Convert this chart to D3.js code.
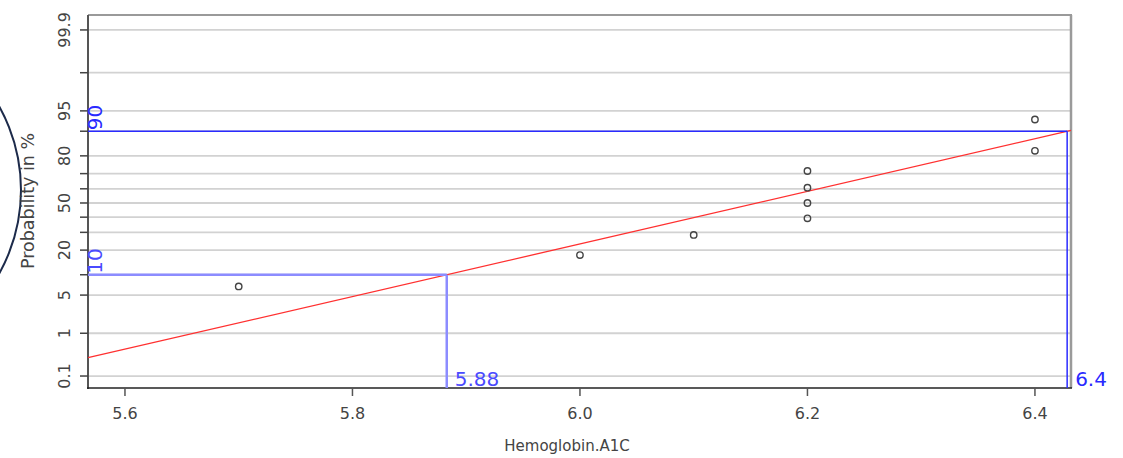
<!DOCTYPE html>
<html lang="en">
<head>
<meta charset="UTF-8">
<title>Probability plot</title>
<script src="https://d3js.org/d3.v7.min.js"></script>
<style>
    body { margin: 0; background: white; }
    text { font-family: "DejaVu Sans", sans-serif; }
</style>
</head>
<body>
<div id="chart"></div>
<script>
    // data
    var hba1c = [5.7, 6.0, 6.1, 6.2, 6.2, 6.2, 6.2, 6.4, 6.4];
    var plotProb = [6.8, 17.6, 28.4, 39.2, 50, 60.8, 71.6, 82.4, 93.2];   // % plotting positions
    var probTicks = [0.1, 1, 5, 10, 20, 30, 40, 50, 60, 70, 80, 90, 95, 99, 99.9];
    var probLabels = ["0.1", "1", "5", "20", "50", "80", "95", "99.9"];
    var xTicks = [5.6, 5.8, 6.0, 6.2, 6.4];
    var markProb = [10, 90];
    var markLabel = ["5.88", "6.4"];
    var fitMean = 6.1556, fitSd = 0.2128;

    var width = 1123, height = 458;
    var pLeft = 88, pRight = 1071, pTop = 15, pBottom = 388;

    var svg = d3.select("#chart").append("svg").attr("width", width).attr("height", height);

    // normal quantile (Acklam)
    function qnorm(p) {
        var a = [-39.69683028665376, 220.9460984245205, -275.9285104469687, 138.3577518672690, -30.66479806614716, 2.506628277459239];
        var b = [-54.47609879822406, 161.5858368580409, -155.6989798598866, 66.80131188771972, -13.28068155288572];
        var c = [-0.007784894002430293, -0.3223964580411365, -2.400758277161838, -2.549732539343734, 4.374664141464968, 2.938163982698783];
        var d = [0.007784695709041462, 0.3224671290700398, 2.445134137142996, 3.754408661907416];
        var q, r, pl = 0.02425;
        if (p < pl) {
            q = Math.sqrt(-2 * Math.log(p));
            return (((((c[0]*q+c[1])*q+c[2])*q+c[3])*q+c[4])*q+c[5]) / ((((d[0]*q+d[1])*q+d[2])*q+d[3])*q+1);
        } else if (p <= 1 - pl) {
            q = p - 0.5; r = q * q;
            return (((((a[0]*r+a[1])*r+a[2])*r+a[3])*r+a[4])*r+a[5])*q / (((((b[0]*r+b[1])*r+b[2])*r+b[3])*r+b[4])*r+1);
        } else {
            q = Math.sqrt(-2 * Math.log(1 - p));
            return -(((((c[0]*q+c[1])*q+c[2])*q+c[3])*q+c[4])*q+c[5]) / ((((d[0]*q+d[1])*q+d[2])*q+d[3])*q+1);
        }
    }

    var x = d3.scaleLinear().domain([5.5675, 6.4317]).range([pLeft, pRight]);
    var z = d3.scaleLinear().domain([-3.304, 3.357]).range([pBottom, pTop]);
    function y(pct) { return z(qnorm(pct / 100)); }
    function fitX(pct) { return fitMean + fitSd * qnorm(pct / 100); }

    // decorative arc on the left edge
    svg.append("circle")
        .attr("cx", -150).attr("cy", 190).attr("r", 171)
        .style("fill", "none").style("stroke", "#1c2a4a").style("stroke-width", 2);

    // grid lines
    svg.selectAll(".grid").data(probTicks).enter()
        .append("line").attr("class", "grid")
        .attr("x1", pLeft).attr("x2", pRight)
        .attr("y1", function (d) { return y(d); })
        .attr("y2", function (d) { return y(d); })
        .style("stroke", "#d2d2d2").style("stroke-width", 1.8);

    // frame: top and right gray, left and bottom darker
    svg.append("line").attr("x1", pLeft).attr("x2", pRight + 1).attr("y1", pTop).attr("y2", pTop)
        .style("stroke", "#9a9a9a").style("stroke-width", 2);
    svg.append("line").attr("x1", pRight).attr("x2", pRight).attr("y1", pTop).attr("y2", pBottom)
        .style("stroke", "#9a9a9a").style("stroke-width", 2.5);

    // y axis
    var yAxis = svg.append("g");
    yAxis.append("line").attr("x1", pLeft).attr("x2", pLeft).attr("y1", pTop).attr("y2", pBottom + 1)
        .style("stroke", "#555").style("stroke-width", 2);
    yAxis.selectAll(".ytick").data(probTicks).enter()
        .append("line").attr("class", "ytick")
        .attr("x1", pLeft - 8).attr("x2", pLeft)
        .attr("y1", function (d) { return y(d); })
        .attr("y2", function (d) { return y(d); })
        .style("stroke", "#444").style("stroke-width", 1.5);
    yAxis.selectAll(".ylab").data(probLabels).enter()
        .append("text").attr("class", "ylab")
        .attr("transform", function (d) { return "translate(70," + y(+d) + ") rotate(-90)"; })
        .attr("text-anchor", "middle")
        .style("font-size", "16px").style("fill", "#444")
        .text(function (d) { return d; });

    // x axis
    svg.append("line").attr("x1", pLeft - 1).attr("x2", pRight + 1).attr("y1", pBottom).attr("y2", pBottom)
        .style("stroke", "#222").style("stroke-width", 1.5);
    svg.selectAll(".xtick").data(xTicks).enter()
        .append("line").attr("class", "xtick")
        .attr("x1", function (d) { return x(d); })
        .attr("x2", function (d) { return x(d); })
        .attr("y1", pBottom).attr("y2", pBottom + 8)
        .style("stroke", "#555").style("stroke-width", 1.5);
    svg.selectAll(".xlab").data(xTicks).enter()
        .append("text").attr("class", "xlab")
        .attr("x", function (d) { return x(d); })
        .attr("y", 419)
        .attr("text-anchor", "middle")
        .style("font-size", "16px").style("fill", "#444")
        .text(function (d) { return d.toFixed(1); });

    // axis titles
    svg.append("text").attr("x", 567).attr("y", 451).attr("text-anchor", "middle")
        .style("font-size", "15px").style("fill", "#444").text("Hemoglobin.A1C");
    svg.append("text").attr("transform", "translate(34,201) rotate(-90)").attr("text-anchor", "middle")
        .style("font-size", "17.5px").style("fill", "#444").text("Probability in %");

    // fitted line
    var lineX = x.domain();
    svg.append("line")
        .attr("x1", x(lineX[0])).attr("x2", x(lineX[1]))
        .attr("y1", z((lineX[0] - fitMean) / fitSd))
        .attr("y2", z((lineX[1] - fitMean) / fitSd))
        .style("stroke", "#ff3030").style("stroke-width", 1.3);

    // quantile markers
    var markStyle = [
        {color: "#8c8cff", w: 2.5, text: "#4a4aff"},
        {color: "#2a2aff", w: 1.5, text: "#2a2aff"}
    ];
    markProb.forEach(function (p, i) {
        var qx = x(fitX(p)), qy = y(p), st = markStyle[i];
        svg.append("line").attr("x1", pLeft).attr("x2", qx).attr("y1", qy).attr("y2", qy)
            .style("stroke", st.color).style("stroke-width", st.w);
        svg.append("line").attr("x1", qx).attr("x2", qx).attr("y1", qy).attr("y2", pBottom)
            .style("stroke", st.color).style("stroke-width", st.w);
        svg.append("text")
            .attr("transform", "translate(" + (pLeft + 14) + "," + (qy - 1) + ") rotate(-90)")
            .style("font-size", "20px").style("fill", st.text)
            .text(p);
        svg.append("text").attr("x", qx + 8).attr("y", pBottom - 2)
            .style("font-size", "20px").style("fill", st.text)
            .text(markLabel[i]);
    });

    // points
    svg.selectAll(".pt").data(hba1c).enter()
        .append("circle").attr("class", "pt")
        .attr("cx", function (d) { return x(d); })
        .attr("cy", function (d, i) { return y(plotProb[i]); })
        .attr("r", 3.2)
        .style("fill", "none").style("stroke", "#444").style("stroke-width", 1.4);
</script>
</body>
</html>
